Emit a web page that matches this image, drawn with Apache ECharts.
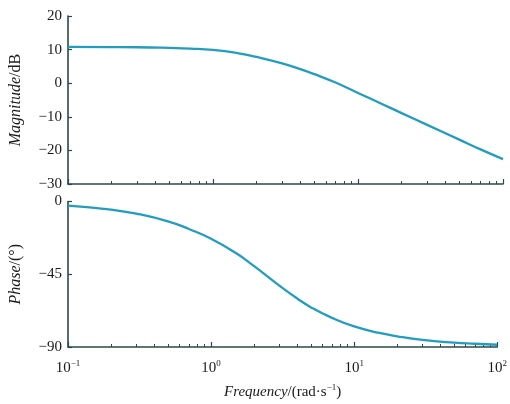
<!DOCTYPE html>
<html>
<head>
<meta charset="utf-8">
<script src="https://cdn.jsdelivr.net/npm/echarts@6/dist/echarts.min.js"></script>
<style>html,body{margin:0;padding:0;background:#fff}#c{width:510px;height:404px}</style>
</head>
<body>
<div id="c"></div>
<script>
var freq = [0.1, 0.2, 0.3, 0.5, 0.7, 1, 1.5, 2, 3, 4, 5, 7, 10, 15, 20, 30, 50, 70, 100];
// Magnitude (dB)
var magnitude = [10.8, 10.75, 10.7, 10.5, 10.3, 9.9, 8.9, 7.8, 5.9, 4.2, 2.7, 0.2, -2.9, -6.4, -8.9, -12.4, -16.8, -19.7, -22.6];
// Phase (degrees)
var phase = [-2.5, -5, -7.5, -12.3, -17, -23, -32, -40, -52, -60, -65.5, -72, -77.3, -81.3, -83.4, -85.6, -87.3, -88, -88.6];
// Tick values / labels
var decadeTicks = [0.1, 1, 10, 100];
var decadeLabels = ['{b|10}{s|\u22121}', '{b|10}{s|0}', '{b|10}{s|1}', '{b|10}{s|2}'];
var minorTicks = [0.2,0.3,0.4,0.5,0.6,0.7,0.8,0.9,2,3,4,5,6,7,8,9,20,30,40,50,60,70,80,90];
var magTicks = {min: -30, max: 20, interval: 10};
var phaseTicks = {min: -90, max: 0, interval: 45};

var AXC = '#2d4848';
var TXT = '#1a1a1a';
var FONT = '"Liberation Serif", "DejaVu Serif", serif';

function pairs(ys) { return freq.map(function (f, i) { return [f, ys[i]]; }); }

function majorX(gi, withLabels) {
  return {
    type: 'log', logBase: 10, gridIndex: gi, min: 0.1, max: 100, position: 'bottom',
    axisLine: {show: true, onZero: false, lineStyle: {color: AXC, width: 1.6}},
    axisTick: {show: true, inside: true, length: 5, customValues: decadeTicks, lineStyle: {color: AXC, width: 1.2}},
    splitLine: {show: false}, minorTick: {show: false},
    axisLabel: withLabels ? {
      show: true, margin: 12, customValues: decadeTicks,
      formatter: function (v) { var k = -1; for (var j = 0; j < decadeTicks.length; j++) if (Math.abs(decadeTicks[j] - v) / decadeTicks[j] < 1e-6) k = j; return k >= 0 ? decadeLabels[k] : ''; },
      rich: {
        b: {fontFamily: FONT, fontSize: 15, color: TXT},
        s: {fontFamily: FONT, fontSize: 9, color: TXT, padding: [0, 0, 10, 0]}
      }
    } : {show: false},
    name: withLabels ? '{i|Frequency}{n|/(rad\u00b7s}{s|\u22121}{n|)}' : '',
    nameLocation: 'middle', nameGap: 36,
    nameTextStyle: {
      rich: {
        i: {fontFamily: FONT, fontStyle: 'italic', fontSize: 15, color: TXT},
        n: {fontFamily: FONT, fontSize: 15, color: TXT},
        s: {fontFamily: FONT, fontSize: 9, color: TXT, padding: [0, 0, 9, 0]}
      }
    }
  };
}
function minorX(gi) {
  return {
    type: 'log', logBase: 10, gridIndex: gi, min: 0.1, max: 100, position: 'bottom',
    axisLine: {show: false, onZero: false},
    axisTick: {show: true, inside: true, length: 3, customValues: minorTicks, lineStyle: {color: AXC, width: 1}},
    axisLabel: {show: false}, splitLine: {show: false}
  };
}
function yAx(gi, t, nameRich) {
  return {
    type: 'value', gridIndex: gi, min: t.min, max: t.max, interval: t.interval, position: 'left',
    axisLine: {show: true, onZero: false, lineStyle: {color: AXC, width: 1.6}},
    axisTick: {show: true, inside: true, length: 4, lineStyle: {color: AXC, width: 1.2}},
    splitLine: {show: false},
    axisLabel: {
      margin: 6, fontFamily: FONT, fontSize: 15, color: TXT,
      formatter: function (v) { return String(v).replace('-', '\u2212'); }
    },
    name: nameRich, nameLocation: 'middle', nameRotate: 90, nameGap: 44,
    nameTextStyle: {
      rich: {
        i: {fontFamily: FONT, fontStyle: 'italic', fontSize: 16, color: TXT},
        n: {fontFamily: FONT, fontSize: 16, color: TXT}
      }
    }
  };
}

var chart = echarts.init(document.getElementById('c'), null, {renderer: 'canvas'});
chart.setOption({
  animation: false,
  backgroundColor: '#ffffff',
  grid: [
    {left: 68, right: 7, top: 16, height: 168},
    {left: 68, right: 7, top: 201.5, height: 145.5}
  ],
  xAxis: [majorX(0, false), minorX(0), majorX(1, true), minorX(1)],
  yAxis: [
    yAx(0, magTicks, '{i|Magnitude}{n|/dB}'),
    yAx(1, phaseTicks, '{i|Phase}{n|/(\u00b0)}')
  ],
  series: [
    {type: 'line', xAxisIndex: 0, yAxisIndex: 0, data: pairs(magnitude), smooth: true, showSymbol: false,
     lineStyle: {color: '#229dc0', width: 2.3}},
    {type: 'line', xAxisIndex: 2, yAxisIndex: 1, data: pairs(phase), smooth: true, showSymbol: false,
     lineStyle: {color: '#229dc0', width: 2.3}}
  ]
});
</script>
</body>
</html>
